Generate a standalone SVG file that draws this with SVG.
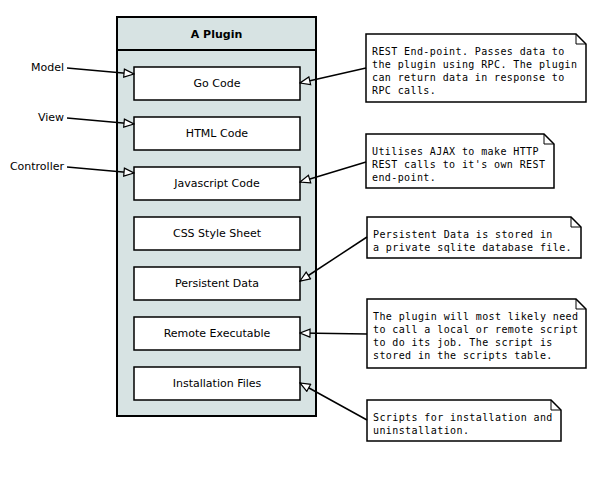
<svg xmlns="http://www.w3.org/2000/svg" width="600" height="483" viewBox="0 0 600 483">
<defs>
<style>
.lbl{font-family:"DejaVu Sans",sans-serif;font-size:11px;fill:#000}
.title{font-family:"DejaVu Sans",sans-serif;font-size:11px;font-weight:bold;fill:#000}
.mono{font-family:"DejaVu Sans Mono",monospace;font-size:10px;letter-spacing:0.4px;fill:#000}
.box{fill:#fff;stroke:#000;stroke-width:1.5}
.note{fill:#fff;stroke:#000;stroke-width:1.5}
.fold{fill:none;stroke:#000;stroke-width:1}
.conn{stroke:#000;stroke-width:1.5;fill:none;marker-end:url(#tri)}
</style>
<marker id="tri" viewBox="0 0 12 10" refX="11" refY="5" markerWidth="12" markerHeight="10" markerUnits="userSpaceOnUse" orient="auto">
<path d="M1,1 L11,5 L1,9 Z" fill="#fff" stroke="#000" stroke-width="1.2"/>
</marker>
</defs>
<rect width="600" height="483" fill="#fff"/>

<g id="container">
<rect x="117" y="17" width="199" height="399" fill="#d7e3e3" stroke="#000" stroke-width="2"/>
<line x1="117" y1="50" x2="316" y2="50" stroke="#000" stroke-width="2"/>
<text class="title" x="216.5" y="38" text-anchor="middle">A Plugin</text>
</g>

<g id="go-code"><rect class="box" x="134" y="67" width="166" height="33"/><text class="lbl" x="217" y="87" text-anchor="middle">Go Code</text></g>
<g id="html-code"><rect class="box" x="134" y="117" width="166" height="33"/><text class="lbl" x="217" y="137" text-anchor="middle">HTML Code</text></g>
<g id="js-code"><rect class="box" x="134" y="167" width="166" height="33"/><text class="lbl" x="217" y="187" text-anchor="middle">Javascript Code</text></g>
<g id="css"><rect class="box" x="134" y="217" width="166" height="33"/><text class="lbl" x="217" y="237" text-anchor="middle">CSS Style Sheet</text></g>
<g id="persistent-data"><rect class="box" x="134" y="267" width="166" height="33"/><text class="lbl" x="217" y="287" text-anchor="middle">Persistent Data</text></g>
<g id="remote-exec"><rect class="box" x="134" y="317" width="166" height="33"/><text class="lbl" x="217" y="337" text-anchor="middle">Remote Executable</text></g>
<g id="install-files"><rect class="box" x="134" y="367" width="166" height="33"/><text class="lbl" x="217" y="387" text-anchor="middle">Installation Files</text></g>

<g id="label-model"><text class="lbl" x="64" y="71" text-anchor="end">Model</text></g>
<g id="label-view"><text class="lbl" x="64" y="121" text-anchor="end">View</text></g>
<g id="label-controller"><text class="lbl" x="64" y="170" text-anchor="end">Controller</text></g>

<g id="note1">
<path class="note" d="M366,34 H576 L586,44 V102 H366 Z"/><path class="fold" d="M576,34 V44 H586"/>
<text class="mono" x="372" y="55">REST End-point. Passes data to</text>
<text class="mono" x="372" y="68">the plugin using RPC. The plugin</text>
<text class="mono" x="372" y="81">can return data in response to</text>
<text class="mono" x="372" y="94">RPC calls.</text>
</g>
<g id="note2">
<path class="note" d="M366,134 H544 L554,144 V188 H366 Z"/><path class="fold" d="M544,134 V144 H554"/>
<text class="mono" x="372" y="155">Utilises AJAX to make HTTP</text>
<text class="mono" x="372" y="168">REST calls to it's own REST</text>
<text class="mono" x="372" y="181">end-point.</text>
</g>
<g id="note3">
<path class="note" d="M367,217 H571 L581,227 V258 H367 Z"/><path class="fold" d="M571,217 V227 H581"/>
<text class="mono" x="373" y="238">Persistent Data is stored in</text>
<text class="mono" x="373" y="251">a private sqlite database file.</text>
</g>
<g id="note4">
<path class="note" d="M367,299 H576 L586,309 V368 H367 Z"/><path class="fold" d="M576,299 V309 H586"/>
<text class="mono" x="373" y="320">The plugin will most likely need</text>
<text class="mono" x="373" y="333">to call a local or remote script</text>
<text class="mono" x="373" y="346">to do its job. The script is</text>
<text class="mono" x="373" y="359">stored in the scripts table.</text>
</g>
<g id="note5">
<path class="note" d="M367,400 H551 L561,410 V441 H367 Z"/><path class="fold" d="M551,400 V410 H561"/>
<text class="mono" x="373" y="421">Scripts for installation and</text>
<text class="mono" x="373" y="434">uninstallation.</text>
</g>

<g id="connectors">
<path class="conn" d="M67,68 L134,74"/>
<path class="conn" d="M67,118 L134,124"/>
<path class="conn" d="M67,167 L134,173"/>
<path class="conn" d="M366,68 L300,83"/>
<path class="conn" d="M366,162 L300,182"/>
<path class="conn" d="M367,237 L300,281"/>
<path class="conn" d="M367,334 L300,333"/>
<path class="conn" d="M367,420 L300,383"/>
</g>
</svg>
